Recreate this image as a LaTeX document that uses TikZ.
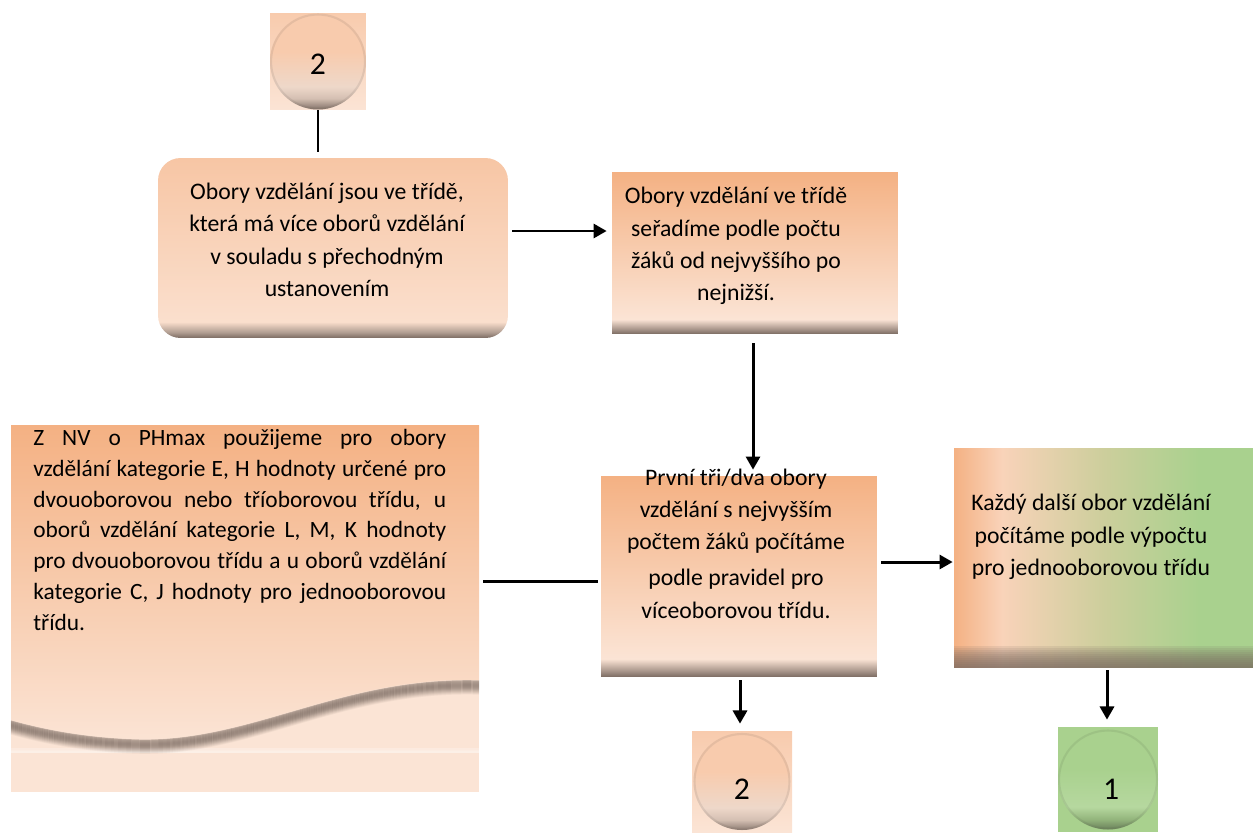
\documentclass[tikz,border=0pt]{standalone}
\usepackage{fontspec}
\setmainfont{Carlito}
\usetikzlibrary{arrows.meta,calc}

\definecolor{peachD}{HTML}{F4B183}
\definecolor{peachM}{HTML}{F8CBAD}
\definecolor{peachL}{HTML}{FBE4D5}
\definecolor{shd}{HTML}{7A6A61}
\definecolor{grn}{HTML}{A9D18E}
\definecolor{grnD}{HTML}{5E7050}

% the path box sits between 25bp and 75bp
\pgfdeclareverticalshading{boxsh}{100bp}{color(0bp)=(shd); color(25bp)=(shd); color(26.5bp)=(shd!65!peachL); color(29.5bp)=(peachL); color(75bp)=(peachD); color(100bp)=(peachD)}
\pgfdeclareverticalshading{roundsh}{100bp}{color(0bp)=(shd); color(25bp)=(shd); color(26.5bp)=(shd!60!peachL); color(29.5bp)=(peachL!80!peachM); color(75bp)=(peachM!80!peachD); color(100bp)=(peachM!80!peachD)}
\pgfdeclareverticalshading{ballsh}{100bp}{color(0bp)=(shd); color(25bp)=(shd); color(27bp)=(shd!75!peachL); color(31bp)=(shd!30!peachL); color(37bp)=(peachL!90!shd); color(55bp)=(peachM); color(100bp)=(peachM)}
\pgfdeclareverticalshading{ballgr}{100bp}{color(0bp)=(grnD); color(25bp)=(grnD); color(27bp)=(grnD!75!grn); color(31bp)=(grnD!30!grn); color(37bp)=(grn!85!white); color(55bp)=(grn); color(100bp)=(grn)}
\pgfdeclarehorizontalshading{peachgrn}{100bp}{color(0bp)=(peachD); color(25bp)=(peachD); color(33bp)=(peachM!85!white); color(50bp)=(peachM!45!grn); color(66bp)=(grn); color(100bp)=(grn)}

\tikzset{
  box/.style={rectangle, inner sep=0pt, shading=boxsh},
  txt/.style={align=center, inner sep=0pt, font=\fontsize{13.5}{18.4}\selectfont},
  txtD/.style={align=justify, inner sep=0pt, text width=8.26cm, font=\fontsize{13.3}{17.5}\selectfont},
  ballbox/.style={rectangle, inner sep=0pt, minimum width=2cm, minimum height=2cm, font=\fontsize{18}{20}\selectfont},
  link/.style={line width=1.7pt},
  arr/.style={line width=1.7pt, -{Triangle[length=7.5pt,width=8pt]}}
}

\begin{document}
\begin{tikzpicture}[x=0.02cm,y=-0.02cm]
\useasboundingbox (0,0) rectangle (1253,832);

% connector balls
\node[ballbox, minimum width=1.92cm, minimum height=1.94cm, top color=peachM, bottom color=peachL,
  path picture={\shade[shading=ballsh] (path picture bounding box.center) circle (0.96cm);
  \draw[shd, opacity=0.15, line width=1.2pt] (path picture bounding box.center) circle (0.94cm);}]
  (top2) at (318,61.5) {\raisebox{-0.06cm}[\height][\depth]{2}};
\node[ballbox, minimum height=2.02cm, top color=peachM, bottom color=peachL,
  path picture={\shade[shading=ballsh] (path picture bounding box.center) circle (0.97cm);
  \draw[shd, opacity=0.15, line width=1.2pt] (path picture bounding box.center) circle (0.95cm);}]
  (bot2) at (742,781.5) {\raisebox{-0.16cm}[\height][\depth]{2}};
\node[ballbox, minimum height=2.1cm, fill=grn,
  path picture={\shade[shading=ballgr] (path picture bounding box.center) circle (1cm);
  \draw[grnD, opacity=0.15, line width=1.2pt] (path picture bounding box.center) circle (0.98cm);}]
  (one) at (1108,779.5) {\hspace*{0.12cm}\raisebox{-0.2cm}[\height][\depth]{1}};

% boxes
\node[box, shading=roundsh, rounded corners=0.45cm, minimum width=7cm, minimum height=3.6cm] (boxA) at (333,248) {};
\node[box, minimum width=5.72cm, minimum height=3.24cm] (boxB) at (755,253) {};
\node[box, minimum width=5.52cm, minimum height=4.02cm] (boxC) at (739,576.5) {};
\node[box, shading=peachgrn, minimum width=5.98cm, minimum height=4.4cm,
  path picture={\foreach \h in {2,4,...,22}
    \fill[shd, opacity=0.13] (path picture bounding box.south west) rectangle ([yshift=\h*0.02cm]path picture bounding box.south east);}]
  (boxE) at (1103.5,558) {};

% wavy sheet on the left
\fill[peachL] (11,660) rectangle (479,792);
\foreach \d/\o in {0/0.25,1.5/0.35,3/0.45}
  \draw[white, opacity=\o, line width=1pt] (11,749+\d) -- (479,749+\d);
\foreach \d/\o in {1/0.45,2/0.55,3/0.6,4/0.65,5/0.68,6/0.68,7/0.65,8/0.6,9/0.52,10/0.42,11/0.33,12/0.24,13/0.15,14/0.08}
  \draw[shd, opacity=\o, line width=0.7pt, yshift=-\d*0.02cm] (479,680) .. controls (340,676) and (250,743) .. (135,739) .. controls (80,737) and (40,728) .. (11,720);
\shade[top color=peachD, bottom color=peachL] (11,425) -- (479,425) -- (479,680) .. controls (340,676) and (250,743) .. (135,739) .. controls (80,737) and (40,728) .. (11,720) -- cycle;
\node[minimum width=9.36cm, minimum height=7.34cm, inner sep=0pt] (boxD) at (245,608.5) {};

% texts
\node[txt] (tA) at (327,240) {Obory vzdělání jsou ve třídě,\\ která má více oborů vzdělání\\ v souladu s přechodným\\ ustanovením};
\node[txt] (tB) at (736,246) {Obory vzdělání ve třídě\\ seřadíme podle počtu\\ žáků od nejvyššího po\\ nejnižší.};
\node[txt] (tC) at (736,543.5) {První tři/dva obory\\ vzdělání s nejvyšším\\ počtem žáků počítáme\\[2pt] podle pravidel pro\\ víceoborovou třídu.};
\node[txt] (tE) at (1091,537) {Každý další obor vzdělání\\ počítáme podle výpočtu\\ pro jednooborovou třídu};
\node[txtD, anchor=north west] (tD) at (33,429) {Z NV o PHmax použijeme pro obory\linebreak
  vzdělání kategorie E, H hodnoty určené pro\linebreak
  dvouoborovou nebo tříoborovou třídu, u\linebreak
  oborů vzdělání kategorie L, M, K hodnoty\linebreak
  pro dvouoborovou třídu a u oborů vzdělání\linebreak
  kategorie C, J hodnoty pro jednooborovou\linebreak
  třídu.};

% connectors
\draw[link] (top2.south) -- ($(top2.south |- boxA.north)+(0,-6)$);
\draw[arr] ($(boxA.east)+(4,-17)$) -- ($(boxA.east -| boxB.west)+(-5,-17)$);
\draw[arr] ($(boxB.south)+(-2,9)$) -- ($(boxB.south |- boxC.north)+(-2,-6)$);
\draw[link] ($(boxD.east)+(4,-27.5)$) -- ($(boxD.east -| boxC.west)+(-3,-27.5)$);
\draw[arr] ($(boxC.east)+(4,-14.5)$) -- ($(boxC.east -| boxE.west)+(-1,-14.5)$);
%\draw[arr] (boxC) -- (boxE);
\draw[arr] ($(boxC.south)+(1,3)$) -- ($(boxC.south |- bot2.north)+(1,-7)$);
\draw[arr] ($(boxE.south)+(3.5,2)$) -- ($(boxE.south |- one.north)+(3.5,-7)$);
\end{tikzpicture}
\end{document}
